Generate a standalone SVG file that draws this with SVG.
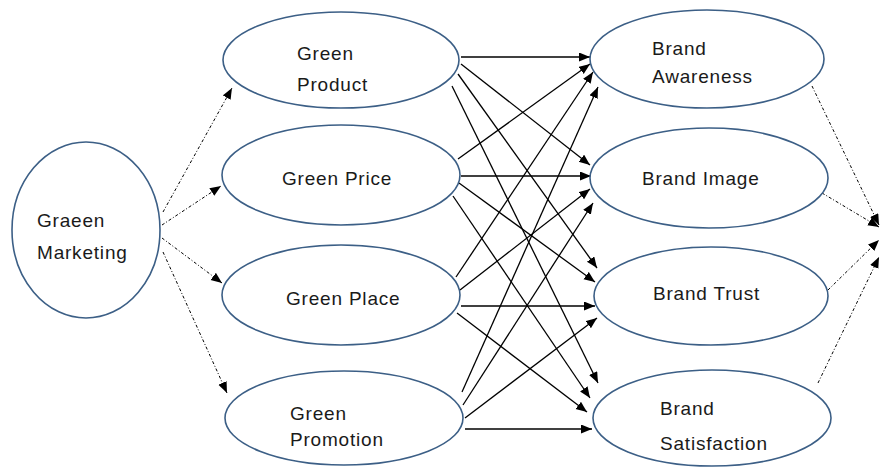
<svg xmlns="http://www.w3.org/2000/svg" width="880" height="468" viewBox="0 0 880 468">
  <defs>
    <marker id="arrow" markerUnits="userSpaceOnUse" markerWidth="12" markerHeight="10" refX="11" refY="4.5" orient="auto">
      <path d="M0,0 L11,4.5 L0,9 Z" fill="#000"/>
    </marker>
    <style>
      .node { fill: #fff; stroke: #3c5f86; stroke-width: 1.6; }
      .label { font-family: "Liberation Sans", Arial, sans-serif; font-size: 19px; letter-spacing: 0.8px; fill: #1a1a1a; }
      .solid { stroke: #000; stroke-width: 1.3; fill: none; marker-end: url(#arrow); }
      .dotted { stroke: #000; stroke-width: 1; fill: none; stroke-dasharray: 3 2 1 2; marker-end: url(#arrow); }
    </style>
  </defs>
  <rect width="880" height="468" fill="#fff"/>

  <!-- connectors -->
  <g id="connectors">
    <!-- green marketing to its four dimensions -->
    <line class="dotted" x1="163" y1="212" x2="232" y2="88"/>
    <line class="dotted" x1="162" y1="225" x2="221" y2="186"/>
    <line class="dotted" x1="162" y1="238" x2="222" y2="283"/>
    <line class="dotted" x1="163" y1="252" x2="227" y2="393"/>

    <!-- from Green Product -->
    <line class="solid" x1="461" y1="57" x2="590" y2="57"/>
    <line class="solid" x1="461" y1="64" x2="590" y2="165"/>
    <line class="solid" x1="458" y1="74" x2="597" y2="268"/>
    <line class="solid" x1="452" y1="86" x2="598" y2="383"/>

    <!-- from Green Price -->
    <line class="solid" x1="458" y1="159" x2="590" y2="64"/>
    <line class="solid" x1="461" y1="176" x2="591" y2="176"/>
    <line class="solid" x1="459" y1="183" x2="595" y2="282"/>
    <line class="solid" x1="453" y1="196" x2="590" y2="398"/>

    <!-- from Green Place -->
    <line class="solid" x1="456" y1="277" x2="593" y2="72"/>
    <line class="solid" x1="460" y1="290" x2="590" y2="189"/>
    <line class="solid" x1="461" y1="306" x2="595" y2="306"/>
    <line class="solid" x1="457" y1="313" x2="587" y2="412"/>

    <!-- from Green Promotion -->
    <line class="solid" x1="462" y1="392" x2="598" y2="87"/>
    <line class="solid" x1="463" y1="405" x2="593" y2="203"/>
    <line class="solid" x1="465" y1="418" x2="597" y2="318"/>
    <line class="solid" x1="465" y1="429" x2="592" y2="429"/>

    <!-- brand outcomes to the right -->
    <line class="dotted" x1="812" y1="86" x2="879" y2="225"/>
    <line class="dotted" x1="822" y1="193" x2="879" y2="227"/>
    <line class="dotted" x1="828" y1="290" x2="879" y2="240"/>
    <line class="dotted" x1="818" y1="383" x2="879" y2="257"/>
  </g>

  <!-- nodes -->
  <g id="green-marketing">
    <ellipse class="node" cx="86" cy="230" rx="74" ry="88"/>
    <text class="label" x="37" y="227">Graeen</text>
    <text class="label" x="37" y="259">Marketing</text>
  </g>

  <g id="green-product">
    <ellipse class="node" cx="341" cy="60" rx="118" ry="48"/>
    <text class="label" x="297" y="60">Green</text>
    <text class="label" x="297" y="91">Product</text>
  </g>

  <g id="green-price">
    <ellipse class="node" cx="341" cy="175" rx="119" ry="50"/>
    <text class="label" x="282" y="185">Green Price</text>
  </g>

  <g id="green-place">
    <ellipse class="node" cx="341" cy="295" rx="119" ry="50"/>
    <text class="label" x="286" y="305">Green Place</text>
  </g>

  <g id="green-promotion">
    <ellipse class="node" cx="344" cy="418" rx="119" ry="47"/>
    <text class="label" x="290" y="420">Green</text>
    <text class="label" x="290" y="446">Promotion</text>
  </g>

  <g id="brand-awareness">
    <ellipse class="node" cx="707" cy="59" rx="117" ry="49"/>
    <text class="label" x="652" y="55">Brand</text>
    <text class="label" x="652" y="83">Awareness</text>
  </g>

  <g id="brand-image">
    <ellipse class="node" cx="709" cy="178" rx="119" ry="50"/>
    <text class="label" x="642" y="185">Brand Image</text>
  </g>

  <g id="brand-trust">
    <ellipse class="node" cx="711" cy="296" rx="117" ry="49"/>
    <text class="label" x="653" y="300">Brand Trust</text>
  </g>

  <g id="brand-satisfaction">
    <ellipse class="node" cx="712" cy="418" rx="119" ry="48"/>
    <text class="label" x="660" y="415">Brand</text>
    <text class="label" x="660" y="450">Satisfaction</text>
  </g>
</svg>
